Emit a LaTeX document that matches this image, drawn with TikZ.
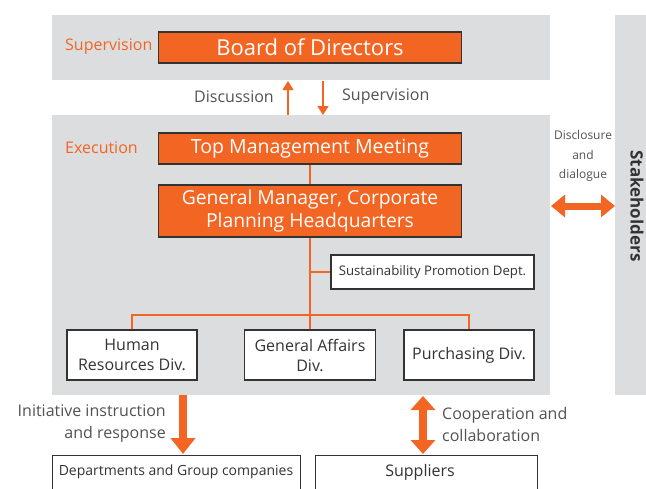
\documentclass[tikz,border=0pt]{standalone}
\usepackage{fontspec}
\setmainfont{Open Sans}
\usetikzlibrary{arrows.meta}
\definecolor{brand}{HTML}{F26522}
\definecolor{panel}{HTML}{DCDDDE}
\definecolor{ink}{HTML}{333333}
\tikzset{
  orgbox/.style={draw=ink, line width=1.2pt, fill=brand, text=white, align=center, inner sep=0pt},
  unitbox/.style={draw=ink, line width=1.2pt, fill=white, text=ink, align=center, inner sep=0pt},
  tag/.style={text=brand, font=\fontsize{16}{18}\selectfont, inner sep=0pt},
  note/.style={text=ink!85, font=\fontsize{16}{22}\selectfont, inner sep=0pt},
  link/.style={draw=brand, line width=1.5pt},
  thinarrow/.style={draw=brand, line width=1.5pt, -{Triangle[width=11pt,length=9pt]}},
  fatarrow/.style={draw=brand, line width=8pt, -{Triangle[width=24pt,length=16pt]}},
  fatboth/.style={draw=brand, line width=7pt, {Triangle[width=22pt,length=14pt]}-{Triangle[width=22pt,length=14pt]}},
}
\begin{document}
\begin{tikzpicture}[x=1pt, y=-1pt]
  \useasboundingbox (0,0) rectangle (646,488);
  \clip (0,0) rectangle (646,488);

  % grey bands
  \fill[panel] (52,15) rectangle (550,80);
  \fill[panel] (52,115) rectangle (550,395);
  \fill[panel] (615,15) rectangle (660,395);

  % supervision band
  \node[tag, anchor=west] (suplbl) at (65,47) {Supervision};
  \node[orgbox, minimum width=303pt, minimum height=31pt, font=\fontsize{22}{24}\selectfont] (board) at (310,47.5) {Board of Directors};

  % execution band
  \node[tag, anchor=west] (execlbl) at (65,148) {Execution};
  \node[orgbox, minimum width=303pt, minimum height=31pt, font=\fontsize{19.5}{22}\selectfont] (tmm) at (310,148.5) {Top Management Meeting};
  \node[orgbox, minimum width=303pt, minimum height=52pt, font=\fontsize{19.3}{23}\selectfont] (gm) at (310,211) {General Manager, Corporate\\Planning Headquarters};
  \node[unitbox, minimum width=203pt, minimum height=34pt, font=\fontsize{13.2}{15}\selectfont] (sus) at (432.5,272) {Sustainability Promotion Dept.};

  \node[unitbox, minimum width=130pt, minimum height=50pt, font=\fontsize{16}{20}\selectfont] (hr) at (132,355) {Human\\Resources Div.};
  \node[unitbox, minimum width=131pt, minimum height=50pt, font=\fontsize{16}{20}\selectfont] (ga) at (310,355) {General Affairs\\Div.};
  \node[unitbox, minimum width=130pt, minimum height=50pt, font=\fontsize{16}{20}\selectfont] (pur) at (469,355) {Purchasing Div.};

  % tree connectors
  \coordinate (bus) at (310,315);
  \draw[link] (tmm.south) -- (gm.north);
  \draw[link] (gm.south) -- (bus) -- (ga.north);
  \draw[link] (sus.west) -- (sus.west -| gm.south);
  \draw[link] (hr.north) |- (bus) -| (pur.north);

  % board <-> execution
  \coordinate (upfrom) at (288,115);
  \coordinate (upto) at (288,81);
  \coordinate (downfrom) at (323,81);
  \coordinate (downto) at (323,115);
  \draw[thinarrow] (upfrom) -- (upto);
  \draw[thinarrow] (downfrom) -- (downto);
  \node[note, anchor=east] (disc) at (274,97) {Discussion};
  \node[note, anchor=west] (supv) at (342,97) {Supervision};

  % stakeholders
  \node[font=\bfseries\fontsize{17}{19}\selectfont, text=ink, rotate=-90, inner sep=0pt] (stake) at (637,206) {Stakeholders};
  \node[note, align=center, font=\fontsize{12}{19.5}\selectfont] (discl) at (583,156) {Disclosure\\and\\dialogue};
  \coordinate (dl) at (551,206);
  \coordinate (dr) at (615,206);
  \draw[fatboth] (dl) -- (dr);

  % below the execution band
  \node[unitbox, minimum width=248pt, minimum height=50pt, anchor=north west] (dept) at (52,455) {};
  \node[font=\fontsize{14}{16}\selectfont, text=ink] (deptlbl) at (176,472) {Departments and Group companies};
  \node[unitbox, minimum width=222pt, minimum height=50pt, anchor=north west] (supp) at (315,455) {};
  \node[font=\fontsize{16}{18}\selectfont, text=ink] (supplbl) at (420,472) {Suppliers};

  \coordinate (instrfrom) at (183,395);
  \coordinate (instrto) at (183,454);
  \draw[fatarrow] (instrfrom) -- (instrto);
  \node[note, align=right, anchor=east] (instr) at (166,424) {Initiative instruction\\and response};

  \coordinate (coopup) at (423,396);
  \coordinate (coopdn) at (423,454);
  \draw[fatboth, line width=8pt, {Triangle[width=24pt,length=14pt]}-{Triangle[width=24pt,length=14pt]}] (coopup) -- (coopdn);
  \node[note, align=left, anchor=west] (coop) at (442,424) {Cooperation and\\collaboration};
\end{tikzpicture}
\end{document}
